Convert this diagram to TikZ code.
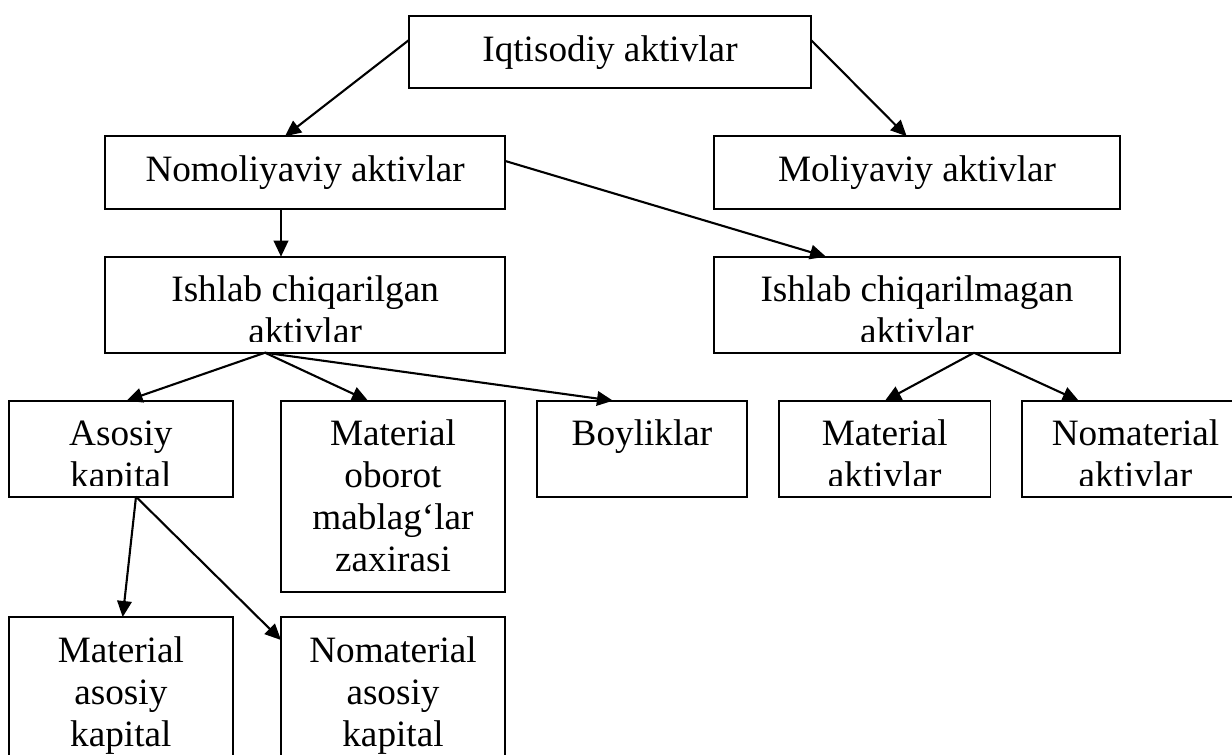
\documentclass[tikz,border=0pt]{standalone}
\usepackage{fontspec}
\setmainfont{Liberation Serif}
\usetikzlibrary{arrows.meta}
\newcommand\bx[1]{\begin{tabular}[t]{@{}c@{}}#1\end{tabular}}
\newcommand\mybox[6]{%
  \node[boxst, minimum width=#4pt, minimum height=#5pt] (#1) at (#2,#3) {};
  \begin{scope}
    \clip (#1.north west) rectangle ([yshift=11pt]#1.south east);
    \node[txtst] (#1t) at ([yshift=-45pt]#1.north) {\bx{#6}};
  \end{scope}}
\begin{document}
\begin{tikzpicture}[x=1pt,y=-1pt,
  boxst/.style={draw, line width=1.9pt, anchor=north west, inner sep=0pt, outer sep=0pt},
  txtst/.style={anchor=base, inner sep=0pt, font=\fontsize{37.2}{42}\selectfont},
  arr/.style={line width=2.1pt, -{Triangle[length=16pt,width=14.5pt]}}]
\useasboundingbox (0,0) rectangle (1232,755);
\mybox{iq}{409}{16}{402}{72.3}{Iqtisodiy aktivlar}
\mybox{nom}{105}{136.3}{400.3}{72.4}{Nomoliyaviy aktivlar}
\mybox{mol}{714}{136.3}{406}{72.4}{Moliyaviy aktivlar}
\mybox{ich}{105}{256.7}{400.3}{96}{Ishlab chiqarilgan\\aktivlar}
\mybox{icm}{714}{256.7}{406}{96}{Ishlab chiqarilmagan\\aktivlar}
\mybox{aso}{8.7}{400.7}{224.3}{96}{Asosiy\\kapital}
\mybox{mob}{281}{400.7}{224}{191.6}{Material\\oborot\\mablag‘lar\\zaxirasi}
\mybox{boy}{537}{400.7}{210}{96}{Boyliklar}
\mybox{mak}{779}{400.7}{211.5}{96}{Material\\aktivlar}
\mybox{nmk}{1022}{400.7}{227}{96}{Nomaterial\\aktivlar}
\mybox{mas}{8.7}{617}{224.3}{160}{Material\\asosiy\\kapital}
\mybox{nas}{281}{617}{224}{160}{Nomaterial\\asosiy\\kapital}
\draw[arr] ([yshift=-24pt]iq.north west) -- ([xshift=180pt]nom.north west);
\draw[arr] ([yshift=-24pt]iq.north east) -- ([xshift=192.7pt]mol.north west);
\draw[arr] ([xshift=176pt]nom.south west) -- ([xshift=176pt]ich.north west);
\draw[arr] ([yshift=-24.7pt]nom.north east) -- ([xshift=112pt]icm.north west);
\draw[arr] ([xshift=160pt]ich.south west) -- ([xshift=117.8pt]aso.north west);
\draw[arr] ([xshift=160pt]ich.south west) -- ([xshift=87pt]mob.north west);
\draw[arr] ([xshift=160pt]ich.south west) -- ([xshift=76pt]boy.north west);
\draw[arr] ([xshift=260pt]icm.south west) -- ([xshift=106pt]mak.north west);
\draw[arr] ([xshift=260pt]icm.south west) -- ([xshift=56.7pt]nmk.north west);
\draw[arr] ([xshift=127.3pt]aso.south west) -- ([xshift=114pt]mas.north west);
\draw[arr] ([xshift=127.3pt]aso.south west) -- ([yshift=-23pt]nas.north west);
\end{tikzpicture}
\end{document}
